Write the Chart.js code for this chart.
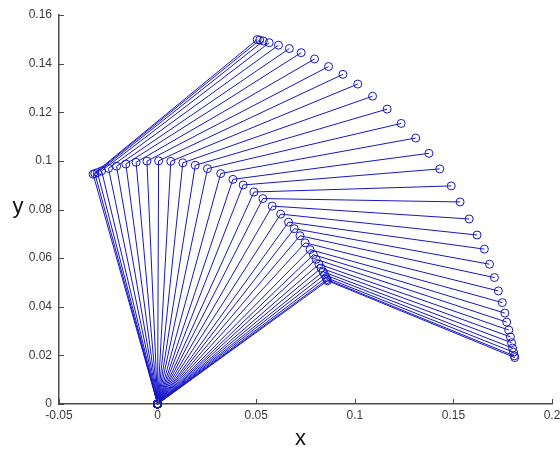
<!DOCTYPE html>
<html>
<head>
<meta charset="utf-8">
<script src="https://cdn.jsdelivr.net/npm/chart.js@4.4.1/dist/chart.umd.min.js"></script>
<style>
  html, body { margin: 0; padding: 0; background: #ffffff; }
  #wrap { width: 560px; height: 455px; position: relative; }
</style>
</head>
<body>
<div id="wrap"><canvas id="c" width="560" height="455"></canvas></div>
<script>
// Two-link planar arm: base at the origin, elbow and tip positions for each frame.
const baseX = 0;
const baseY = 0;

const elbowX = [-0.0327, -0.0318, -0.0305, -0.0284, -0.0249, -0.0208, -0.0161, -0.0109, -0.0054, 0.0005,
                 0.0067, 0.0128, 0.0191, 0.0253, 0.0320, 0.0382, 0.0434, 0.0489, 0.0534, 0.0581,
                 0.0624, 0.0664, 0.0693, 0.0722, 0.0748, 0.0773, 0.0790, 0.0804, 0.0818, 0.0829,
                 0.0839, 0.0847, 0.0854, 0.0859, 0.0862];
const elbowY = [0.0945, 0.0948, 0.0952, 0.0959, 0.0969, 0.0978, 0.0987, 0.0994, 0.0999, 0.1000,
                0.0998, 0.0992, 0.0982, 0.0968, 0.0948, 0.0924, 0.0901, 0.0872, 0.0845, 0.0814,
                0.0781, 0.0748, 0.0721, 0.0692, 0.0663, 0.0635, 0.0614, 0.0595, 0.0575, 0.0559,
                0.0544, 0.0532, 0.0520, 0.0512, 0.0507];

const tipX = [0.0505, 0.0518, 0.0536, 0.0566, 0.0613, 0.0668, 0.0728, 0.0796, 0.0867, 0.0940,
              0.1015, 0.1090, 0.1164, 0.1235, 0.1309, 0.1376, 0.1431, 0.1489, 0.1534, 0.1580,
              0.1620, 0.1657, 0.1683, 0.1708, 0.1728, 0.1748, 0.1761, 0.1770, 0.1781, 0.1789,
              0.1795, 0.1800, 0.1805, 0.1809, 0.1811];
const tipY = [0.1499, 0.1497, 0.1493, 0.1486, 0.1476, 0.1462, 0.1445, 0.1419, 0.1388, 0.1356,
              0.1316, 0.1266, 0.1213, 0.1154, 0.1094, 0.1031, 0.0967, 0.0897, 0.0831, 0.0761,
              0.0695, 0.0637, 0.0575, 0.0520, 0.0465, 0.0417, 0.0374, 0.0337, 0.0304, 0.0276,
              0.0252, 0.0230, 0.0213, 0.0198, 0.0191];

const xTicks = [-0.05, 0, 0.05, 0.1, 0.15, 0.2];
const xTickLabels = ['-0.05', '0', '0.05', '0.1', '0.15', '0.2'];
const yTicks = [0, 0.02, 0.04, 0.06, 0.08, 0.1, 0.12, 0.14, 0.16];
const yTickLabels = ['0', '0.02', '0.04', '0.06', '0.08', '0.1', '0.12', '0.14', '0.16'];

const armColor = 'rgb(22,22,200)';
const axisColor = '#4a4a4a';
const labelColor = '#3a3a3a';

const datasets = elbowX.map((ex, i) => ({
  data: [
    { x: baseX, y: baseY },
    { x: ex, y: elbowY[i] },
    { x: tipX[i], y: tipY[i] }
  ],
  showLine: true,
  borderColor: armColor,
  borderWidth: 1,
  pointRadius: 4,
  pointHoverRadius: 4,
  pointBorderWidth: 1,
  pointBorderColor: armColor,
  pointBackgroundColor: 'rgba(0,0,0,0)',
  pointStyle: 'circle',
  clip: false
}));

// Inward tick marks and the upright axis letters.
const axisDecor = {
  id: 'axisDecor',
  afterDraw(chart) {
    const ctx = chart.ctx;
    const xs = chart.scales.x, ys = chart.scales.y;
    const area = chart.chartArea;
    ctx.save();
    ctx.strokeStyle = axisColor;
    ctx.lineWidth = 1;
    ctx.beginPath();
    xTicks.forEach(v => {
      const px = Math.round(xs.getPixelForValue(v)) + 0.5;
      ctx.moveTo(px, area.bottom);
      ctx.lineTo(px, area.bottom - 5);
    });
    yTicks.forEach(v => {
      const py = Math.round(ys.getPixelForValue(v)) + 0.5;
      ctx.moveTo(area.left, py);
      ctx.lineTo(area.left + 5, py);
    });
    ctx.stroke();

    ctx.fillStyle = '#111111';
    ctx.font = '22px "Liberation Sans", Arial, sans-serif';
    ctx.textAlign = 'center';
    ctx.textBaseline = 'middle';
    ctx.fillText('x', (area.left + area.right) / 2 - 5, 439);
    ctx.fillText('y', 18, 207);
    ctx.restore();
  }
};

new Chart(document.getElementById('c'), {
  type: 'scatter',
  data: { datasets },
  plugins: [axisDecor],
  options: {
    responsive: false,
    animation: false,
    devicePixelRatio: 1,
    events: [],
    layout: { padding: { top: 15, right: 8, left: 0, bottom: 0 } },
    plugins: {
      legend: { display: false },
      tooltip: { enabled: false },
      title: { display: false }
    },
    scales: {
      x: {
        type: 'linear',
        min: -0.05,
        max: 0.2,
        grid: { display: false, drawTicks: false },
        border: { display: true, color: axisColor, width: 1.5 },
        afterBuildTicks: s => { s.ticks = xTicks.map(v => ({ value: v })); },
        afterFit: s => { s.height = 51; s.paddingLeft = 0; s.paddingRight = 0; },
        ticks: {
          color: labelColor,
          padding: 4,
          maxRotation: 0,
          autoSkip: false,
          font: { family: '"Liberation Sans", Arial, sans-serif', size: 12 },
          callback: (v) => {
            const k = xTicks.findIndex(t => Math.abs(t - v) < 1e-9);
            return k >= 0 ? xTickLabels[k] : '';
          }
        }
      },
      y: {
        type: 'linear',
        min: 0,
        max: 0.16,
        grid: { display: false, drawTicks: false },
        border: { display: true, color: axisColor, width: 1.5 },
        afterBuildTicks: s => { s.ticks = yTicks.map(v => ({ value: v })); },
        afterFit: s => { s.width = 59; s.paddingTop = 0; s.paddingBottom = 0; },
        ticks: {
          color: labelColor,
          padding: 7,
          autoSkip: false,
          font: { family: '"Liberation Sans", Arial, sans-serif', size: 12 },
          callback: (v) => {
            const k = yTicks.findIndex(t => Math.abs(t - v) < 1e-9);
            return k >= 0 ? yTickLabels[k] : '';
          }
        }
      }
    }
  }
});
</script>
</body>
</html>
